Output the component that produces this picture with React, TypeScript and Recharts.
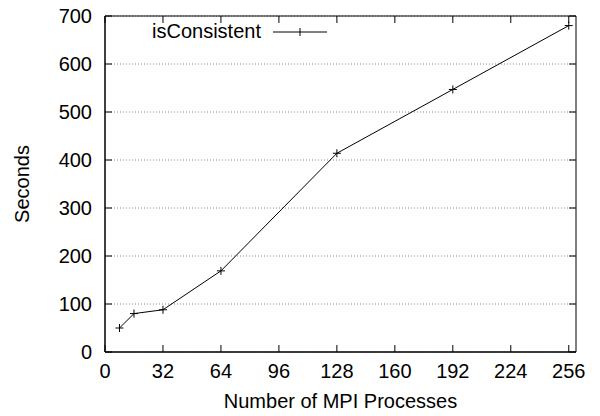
import { LineChart, Line, XAxis, YAxis, CartesianGrid, Legend, ReferenceArea } from "recharts";

/* ── data ── */
const processes = [8, 16, 32, 64, 128, 192, 256];
const seconds = [50, 80, 88, 169, 414, 547, 680];

const xTicks = [0, 32, 64, 96, 128, 160, 192, 224, 256];
const yTicks = [0, 100, 200, 300, 400, 500, 600, 700];

const SERIES_NAME = "isConsistent";
const FONT = "'Liberation Sans', Arial, Helvetica, sans-serif";
const FONT_SIZE = 20;

// plot box size (600x416 minus margins/axes), used for the mirrored inner ticks
const PLOT_W = 471;
const PLOT_H = 336;
const TICK = 7;
const X_GAP = 12;
const Y_GAP = 13;

const data = processes.map((p, i) => ({ procs: p, secs: seconds[i] }));

// gnuplot style "+" point
function PlusDot({ cx, cy }: { cx?: number; cy?: number }) {
  if (cx == null || cy == null) return null;
  return (
    <g stroke="#000" strokeWidth={1}>
      <line x1={cx - 4} y1={cy} x2={cx + 4} y2={cy} />
      <line x1={cx} y1={cy - 4} x2={cx} y2={cy + 4} />
    </g>
  );
}

/* tick label + inward tick marks at bottom and top */
function XTick({ x, y, payload }: { x?: number; y?: number; payload?: { value: number } }) {
  if (x == null || y == null || !payload) return null;
  const axisY = y - X_GAP;
  const topY = axisY - PLOT_H;
  return (
    <g>
      <line x1={x} y1={axisY} x2={x} y2={axisY - TICK} stroke="#000" />
      <line x1={x} y1={topY} x2={x} y2={topY + TICK} stroke="#000" />
      <text x={x} y={y} dy="0.71em" textAnchor="middle" fontFamily={FONT} fontSize={FONT_SIZE} fill="#000">
        {payload.value}
      </text>
    </g>
  );
}

/* tick label + inward tick marks at left and right */
function YTick({ x, y, payload }: { x?: number; y?: number; payload?: { value: number } }) {
  if (x == null || y == null || !payload) return null;
  const axisX = x + Y_GAP;
  const rightX = axisX + PLOT_W;
  return (
    <g>
      <line x1={axisX} y1={y} x2={axisX + TICK} y2={y} stroke="#000" />
      <line x1={rightX} y1={y} x2={rightX - TICK} y2={y} stroke="#000" />
      <text x={x} y={y} dy="0.355em" textAnchor="end" fontFamily={FONT} fontSize={FONT_SIZE} fill="#000">
        {payload.value}
      </text>
    </g>
  );
}

function KeyBox() {
  return (
    <div style={{ display: "flex", alignItems: "center", fontFamily: FONT, fontSize: FONT_SIZE, color: "#000" }}>
      <span>{SERIES_NAME}</span>
      <svg width={56} height={14} style={{ marginLeft: 12 }}>
        <line x1={0} y1={7} x2={54} y2={7} stroke="#000" strokeWidth={1} />
        <line x1={27} y1={3} x2={27} y2={11} stroke="#000" strokeWidth={1} />
      </svg>
    </div>
  );
}

const labelStyle = { fontFamily: FONT, fontSize: FONT_SIZE, fill: "#000" };

export default function App() {
  return (
    <div style={{ position: "absolute", left: 0, top: 0, background: "#fff" }}>
      <LineChart width={600} height={416} data={data} margin={{ top: 16, right: 24, bottom: 0, left: 0 }}>
        <CartesianGrid vertical={false} stroke="#888" strokeDasharray="1 2" />
        <XAxis
          dataKey="procs"
          type="number"
          domain={[0, 260]}
          allowDataOverflow
          ticks={xTicks}
          height={64}
          stroke="#000"
          tickLine={false}
          tickSize={0}
          tickMargin={X_GAP}
          tick={<XTick />}
          label={{ value: "Number of MPI Processes", position: "center", dy: 17, style: labelStyle }}
        />
        <YAxis
          type="number"
          domain={[0, 700]}
          allowDataOverflow
          ticks={yTicks}
          width={105}
          stroke="#000"
          tickLine={false}
          tickSize={0}
          tickMargin={Y_GAP}
          tick={<YTick />}
          label={{ value: "Seconds", angle: -90, position: "center", dx: -31, style: labelStyle }}
        />
        {/* plot border, like gnuplot's box */}
        <ReferenceArea x1={0} x2={260} y1={0} y2={700} fill="none" stroke="#000" strokeWidth={1} fillOpacity={0} />
        <Legend
          layout="vertical"
          align="center"
          verticalAlign="middle"
          content={() => <KeyBox />}
          wrapperStyle={{ top: 20, left: 152, width: "auto", height: "auto" }}
        />
        <Line
          type="linear"
          dataKey="secs"
          name={SERIES_NAME}
          stroke="#000"
          strokeWidth={1}
          dot={<PlusDot />}
          activeDot={false}
          isAnimationActive={false}
        />
      </LineChart>
    </div>
  );
}
